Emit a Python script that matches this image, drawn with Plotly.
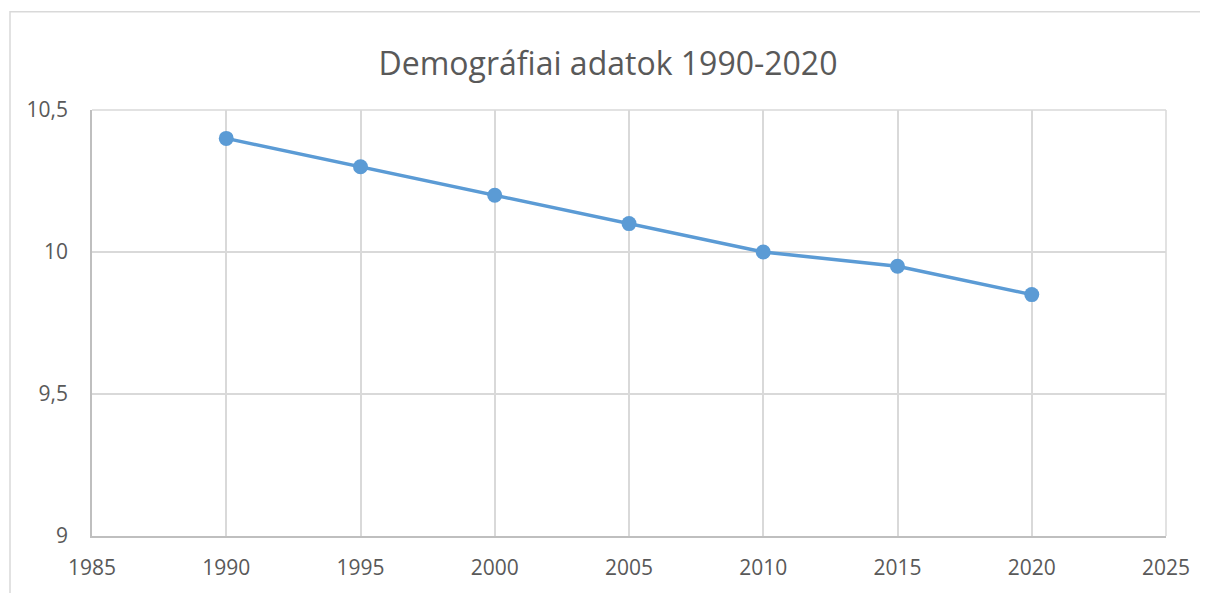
import plotly.graph_objects as go

years = [1990, 1995, 2000, 2005, 2010, 2015, 2020]
values = [10.4, 10.3, 10.2, 10.1, 10.0, 9.95, 9.85]

x_tickvals = [1985, 1990, 1995, 2000, 2005, 2010, 2015, 2020, 2025]
x_ticktext = ["1985", "1990", "1995", "2000", "2005", "2010", "2015", "2020", "2025"]
y_tickvals = [9, 9.5, 10, 10.5]
y_ticktext = ["9", "9,5", "10", "10,5"]

title_text = "Demográfiai adatok 1990-2020"

OFF = 8  # default page body margin
W, H = 1208 - OFF, 593 - OFF
L, R, T, B = 92 - OFF, 42, 110 - OFF, 54
pw, ph = W - L - R, H - T - B

def px_x(p):
    return (p - OFF - L) / pw

def px_y(p):
    return (H - B - (p - OFF)) / ph

fig = go.Figure()
fig.add_trace(go.Scatter(
    x=years, y=values, mode="lines+markers",
    line=dict(color="#5b9bd5", width=3.5),
    marker=dict(color="#5b9bd5", size=15),
    showlegend=False,
))

fig.update_layout(
    width=W, height=H,
    margin=dict(l=L, r=R, t=T, b=B),
    paper_bgcolor="white", plot_bgcolor="white",
    font=dict(family="Open Sans, Noto Sans, sans-serif", color="#595959", size=21),
    title=dict(text=title_text, x=0.5, xref="container", xanchor="center",
               y=1 - (64 - OFF) / H, yref="container", yanchor="middle",
               font=dict(size=32, color="#595959")),
    separators=", ",
    xaxis=dict(range=[1985, 2025], tickvals=x_tickvals, ticktext=x_ticktext,
               showgrid=True, gridcolor="#d9d9d9", gridwidth=1.5,
               showline=True, linecolor="#bfbfbf", linewidth=1.5,
               zeroline=False, ticks="", ticklabelstandoff=12),
    yaxis=dict(range=[9, 10.5], tickvals=y_tickvals, ticktext=y_ticktext,
               showgrid=True, gridcolor="#d9d9d9", gridwidth=1.5,
               showline=True, linecolor="#bfbfbf", linewidth=1.5,
               zeroline=False, ticks="", ticklabelstandoff=18),
    shapes=[
        dict(type="rect", xref="paper", yref="paper",
             x0=px_x(10), x1=px_x(1240), y0=px_y(11), y1=px_y(640),
             line=dict(color="#d9d9d9", width=1.5), layer="below"),
        dict(type="line", xref="paper", yref="paper",
             x0=0, x1=1, y0=1, y1=1, line=dict(color="#d9d9d9", width=1.5)),
        dict(type="line", xref="paper", yref="paper",
             x0=1, x1=1, y0=0, y1=1, line=dict(color="#d9d9d9", width=1.5)),
    ],
)

fig.write_html("out.html")
